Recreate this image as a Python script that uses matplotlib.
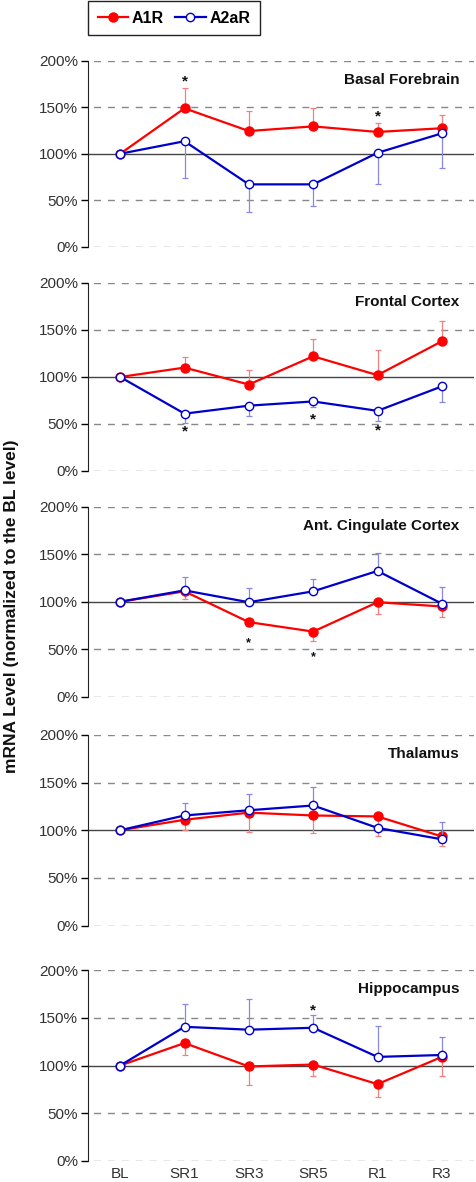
import numpy as np
import matplotlib.pyplot as plt
from matplotlib.lines import Line2D

plt.rcParams['font.family'] = ['Liberation Sans Narrow', 'Liberation Sans', 'DejaVu Sans']

# data (% of BL level)
timepoints = ["BL", "SR1", "SR3", "SR5", "R1", "R3"]
regions = ["Basal Forebrain", "Frontal Cortex", "Ant. Cingulate Cortex",
           "Thalamus", "Hippocampus"]

a1r_mean = [[100, 149, 124.5, 129.5, 123.5, 127.5],
            [100, 110, 92, 122, 102, 138],
            [100, 111, 78.5, 68.5, 99.5, 95],
            [100, 111, 118.5, 115.5, 114.5, 93.5],
            [100, 123.5, 99, 101, 80.5, 109]]
a1r_err = [[0, 22, 21.5, 20, 9.5, 14],
           [0, 11, 15.5, 18.5, 27, 21.5],
           [0, 8, 4.5, 10, 12, 11],
           [0, 11, 20.5, 18, 20.5, 10],
           [0, 12.5, 19.5, 12, 14, 20.5]]
a1r_dir = [1, 1, -1, -1, -1]   # +1 error drawn up, -1 drawn down

a2ar_mean = [[100, 113.5, 67, 67, 101, 122],
             [100, 61, 69.5, 74, 64, 90],
             [100, 112, 99.5, 111, 132.5, 98],
             [100, 115.5, 121, 126, 102.5, 90.5],
             [100, 140.5, 137.5, 139.5, 109, 111]]
a2ar_err = [[0, 40, 30, 23, 33.5, 37.5],
            [0, 10, 11, 6, 10.5, 16.5],
            [0, 14, 15, 13, 19, 17.5],
            [0, 13.5, 17, 19.5, 3, 18],
            [0, 23.5, 32, 13, 32, 19]]
a2ar_dir = [-1, -1, 1, 1, 1]

# significance stars: (panel, time index, y, size)
stars = [(0, 1, 178, 11), (0, 4, 140, 11), (1, 1, 42, 11), (1, 3, 55, 11),
         (1, 4, 43, 11), (2, 2, 56, 9), (2, 3, 42, 9), (4, 3, 158, 11)]

red = '#ff0000'
blue = '#0000cc'
W, H = 476, 1182
fig = plt.figure(figsize=(W / 100, H / 100), dpi=100)

# panel extents in pixels (top = 200%, bottom = 0%)
tops = [61, 283, 507, 735, 970]
bottoms = [246.5, 471, 696.5, 925.5, 1161]
left, right = 88, 474

x = np.arange(len(timepoints))
axes = []
for i in range(5):
    ax = fig.add_axes([left / W, 1 - bottoms[i] / H, (right - left) / W,
                       (bottoms[i] - tops[i]) / H])
    axes.append(ax)
    for yv in [0, 50, 150, 200]:
        ax.axhline(yv, color='#888888', lw=1, ls=(6, (5, 5)), zorder=0)
    ax.axhline(100, color='#444444', lw=1, zorder=1)

    e1 = np.array(a1r_err[i])
    e2 = np.array(a2ar_err[i])
    z = np.zeros_like(e1)
    y1 = [z, e1] if a1r_dir[i] > 0 else [e1, z]
    y2 = [z, e2] if a2ar_dir[i] > 0 else [e2, z]

    ax.errorbar(x, a1r_mean[i], yerr=y1, fmt='none', ecolor='#f28080',
                elinewidth=0.9, capsize=2.2, capthick=0.9, zorder=2)
    ax.plot(x, a1r_mean[i], color=red, lw=1.6, marker='o', ms=6.5,
            mfc=red, mec=red, zorder=3)
    ax.errorbar(x, a2ar_mean[i], yerr=y2, fmt='none', ecolor='#8888e4',
                elinewidth=0.9, capsize=2.2, capthick=0.9, zorder=4)
    ax.plot(x, a2ar_mean[i], color=blue, lw=1.6, marker='o', ms=6,
            mfc='white', mec=blue, mew=1, zorder=5)

    ax.set_xlim(-0.5, 5.5)
    ax.set_ylim(0, 200)
    ax.set_yticks([0, 50, 100, 150, 200])
    ax.set_yticklabels(['0%', '50%', '100%', '150%', '200%'])
    ax.tick_params(axis='y', direction='out', length=5, width=1,
                   labelsize=11, labelcolor='#333333', pad=2)
    ax.set_xticks(x)
    if i == 4:
        ax.set_xticklabels(timepoints)
        ax.tick_params(axis='x', length=0, labelsize=11,
                       labelcolor='#333333', pad=4)
    else:
        ax.set_xticklabels([])
        ax.tick_params(axis='x', length=0)
    for s in ['top', 'right', 'bottom']:
        ax.spines[s].set_visible(False)
    ax.spines['left'].set_color('#222222')
    ax.text(5.27, 180, regions[i], ha='right', va='center',
            fontsize=11, fontweight='bold', color='#111111')

for p, xi, yv, fs in stars:
    axes[p].text(xi, yv, '*', ha='center', va='center', fontsize=fs,
                 fontweight='bold', color='#111111')

fig.text(12 / W, 1 - 606 / H, 'mRNA Level (normalized to the BL level)',
         rotation=90, ha='center', va='center', fontsize=12.5,
         fontweight='bold', color='#111111')

handles = [Line2D([], [], color=red, lw=1.6, marker='o', ms=6.5, mfc=red, mec=red),
           Line2D([], [], color=blue, lw=1.6, marker='o', ms=6, mfc='white',
                  mec=blue, mew=1)]
leg = fig.legend(handles, ['A1R', 'A2aR'], ncol=2, loc='upper left',
                 bbox_to_anchor=(left / W, 1 - 1 / H), frameon=True,
                 fancybox=False, edgecolor='#222222', framealpha=1,
                 prop={'weight': 'bold', 'size': 11.5}, handlelength=1.9,
                 columnspacing=0.7, handletextpad=0.25, borderpad=0.6,
                 borderaxespad=0)
leg.get_frame().set_linewidth(1)

fig.savefig('out.png', dpi=100)
